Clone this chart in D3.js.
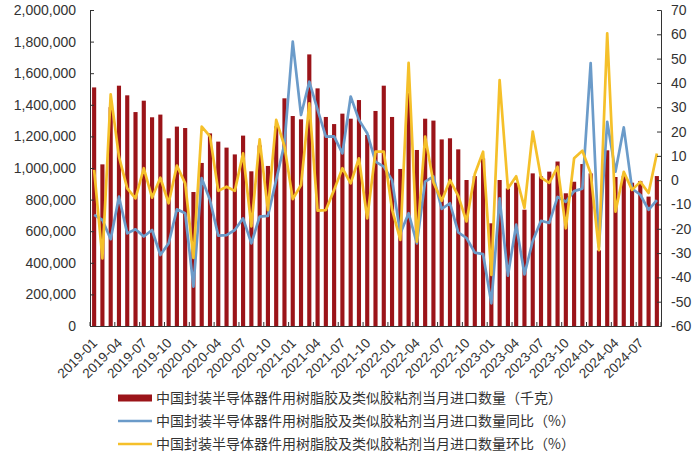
<!DOCTYPE html>
<html><head><meta charset="utf-8">
<script src="https://cdn.jsdelivr.net/npm/d3@7"></script>
<style>
body{margin:0;background:#fff;}
svg text{font-family:"Liberation Sans",Arial,"Noto Sans CJK SC",sans-serif;fill:#333;}
</style></head>
<body><svg id="c" width="700" height="459"></svg>
<script>
const months = [];
for (let y = 2019; y <= 2024; y++) for (let m = 1; m <= 12; m++) {
  if (y === 2024 && m > 9) break;
  months.push(y + "-" + String(m).padStart(2, "0"));
}
const importQty = [1510000,1023000,1385000,1521000,1460000,1354000,1426000,1321000,1338000,1188000,1262000,1253000,
  848000,1032000,1219000,1167000,1129000,1086000,1205000,979000,1143000,1013000,1264000,1441000,
  1329000,1308000,1719000,1504000,1323000,1278000,1344000,1312000,1430000,1209000,1361000,1521000,
  1323000,994000,1474000,1114000,1312000,1300000,1181000,1188000,1118000,924000,949000,1060000,
  650000,924000,871000,907000,736000,966000,947000,977000,1041000,840000,913000,1025000,
  966000,479000,1112000,943000,950000,907000,918000,819000,949000];
const yoy = [-14.3,-16.4,-24.3,-6.8,-21.9,-20.2,-23.2,-20.5,-30.8,-26,-12,-13.6,
  -43.8,0.8,-8.2,-22.8,-22.6,-20.5,-15.7,-26,-15,-14.7,0.1,15,
  57,26.8,40.5,29,17.9,18,11,34.4,24.8,19.3,7.6,5.6,
  0,-21.9,-13.6,-26,-0.6,1.5,-11.8,-9.5,-21.5,-23.8,-29.8,-30.4,
  -50.7,-7.5,-39.3,-18.3,-38.8,-25,-16.7,-17.6,-6.9,-8.9,-4.5,-3.5,
  48.2,-27.5,24,3.5,21.7,-3.5,-6,-12.2,-8.2];
const mom = [4.2,-32.2,35.3,9.7,-3.4,-7.5,4.9,-7.2,1.0,-9.5,6,-1.3,
  -32,22,18,-4.4,-2.7,-4.4,11,-19,16.8,-12.3,24.8,14,
  -7.8,-2,31.6,-12.5,-12.3,-4,4.9,-1.3,9,-15.7,11.7,11.7,
  -12,-24.6,48.3,-25.3,17.9,-0.9,-8.5,0,-6.5,-17,2.5,11.7,
  -39,41.2,-3.4,1.6,-11.4,20,1,-1.1,5.5,-19.8,9,12.1,
  2.8,-28.8,60.4,-13,3.4,-4,-0.7,-5.3,11];
const leftTicks = [0,200000,400000,600000,800000,1000000,1200000,1400000,1600000,1800000,2000000];
const rightTicks = [-60,-50,-40,-30,-20,-10,0,10,20,30,40,50,60,70];
const xLabels = months.filter((d, i) => i % 3 === 0);
const seriesNames = ["中国封装半导体器件用树脂胶及类似胶粘剂当月进口数量（千克）",
  "中国封装半导体器件用树脂胶及类似胶粘剂当月进口数量同比（%）",
  "中国封装半导体器件用树脂胶及类似胶粘剂当月进口数量环比（%）"];
const colors = ["#9b1419", "#6b9bc9", "#f5c02a"];

const svg = d3.select("#c");
const L = 90, R = 661, T = 10, B = 326;
const x = d3.scaleBand().domain(months).range([L, R]).paddingInner(0.5).paddingOuter(0.25);
const yL = d3.scaleLinear().domain([0, 2000000]).range([B, T]);
const yR = d3.scaleLinear().domain([-60, 70]).range([B, T]);
const cx = d => x(d) + x.bandwidth() / 2;

// bars
svg.append("g").selectAll("rect").data(months).join("rect")
  .attr("x", d => x(d)).attr("width", x.bandwidth())
  .attr("y", (d, i) => yL(importQty[i])).attr("height", (d, i) => B - yL(importQty[i]))
  .attr("fill", colors[0]);

const line = vals => d3.line().x((d) => cx(d)).y((d, i) => yR(vals[i]))(months);
svg.append("path").attr("d", line(yoy)).attr("fill", "none").attr("stroke", colors[1]).attr("stroke-width", 2.7).attr("stroke-linejoin", "round");
svg.append("path").attr("d", line(mom)).attr("fill", "none").attr("stroke", colors[2]).attr("stroke-width", 2.7).attr("stroke-linejoin", "round");

// left axis
const gl = svg.append("g").attr("transform", `translate(${L},0)`)
  .call(d3.axisLeft(yL).tickValues(leftTicks).tickSize(-4).tickPadding(14).tickFormat(d3.format(",")));
gl.selectAll("text").style("font-size", "14px");
// right axis
const gr = svg.append("g").attr("transform", `translate(${R},0)`)
  .call(d3.axisRight(yR).tickValues(rightTicks).tickSize(-4).tickPadding(10).tickFormat(d => d));
gr.selectAll("text").style("font-size", "14px");
// bottom axis line and ticks between categories
const gb = svg.append("g");
gb.append("line").attr("x1", L).attr("x2", R).attr("y1", B + 0.5).attr("y2", B + 0.5).attr("stroke", "#333");
const step = x.step();
const bounds = d3.range(0, months.length + 1, 3);
gb.selectAll("line.t").data(bounds).join("line").attr("class", "t")
  .attr("x1", k => x(months[0]) - x.paddingInner() * step / 2 + k * step)
  .attr("x2", k => x(months[0]) - x.paddingInner() * step / 2 + k * step)
  .attr("y1", B).attr("y2", B - 4).attr("stroke", "#333");
gb.selectAll("text").data(xLabels).join("text")
  .attr("transform", d => `translate(${cx(d) + 4},${B + 18}) rotate(-45)`)
  .attr("text-anchor", "end").style("font-size", "13.5px").text(d => d);
svg.selectAll(".domain").attr("stroke", "#333");
svg.selectAll(".tick line").attr("stroke", "#333");

// legend
const lg = svg.append("g");
const ly = [398, 421, 444];
lg.append("rect").attr("x", 118).attr("y", ly[0] - 3.5).attr("width", 34).attr("height", 7).attr("fill", colors[0]);
lg.append("line").attr("x1", 118).attr("x2", 152).attr("y1", ly[1]).attr("y2", ly[1]).attr("stroke", colors[1]).attr("stroke-width", 2.7);
lg.append("line").attr("x1", 118).attr("x2", 152).attr("y1", ly[2]).attr("y2", ly[2]).attr("stroke", colors[2]).attr("stroke-width", 2.7);
lg.selectAll("text").data(seriesNames).join("text")
  .attr("x", 156).attr("y", (d, i) => ly[i]).attr("dy", "0.35em")
  .style("font-size", "14px").style("font-family", "'Noto Sans CJK SC',sans-serif").text(d => d);
</script></body></html>
